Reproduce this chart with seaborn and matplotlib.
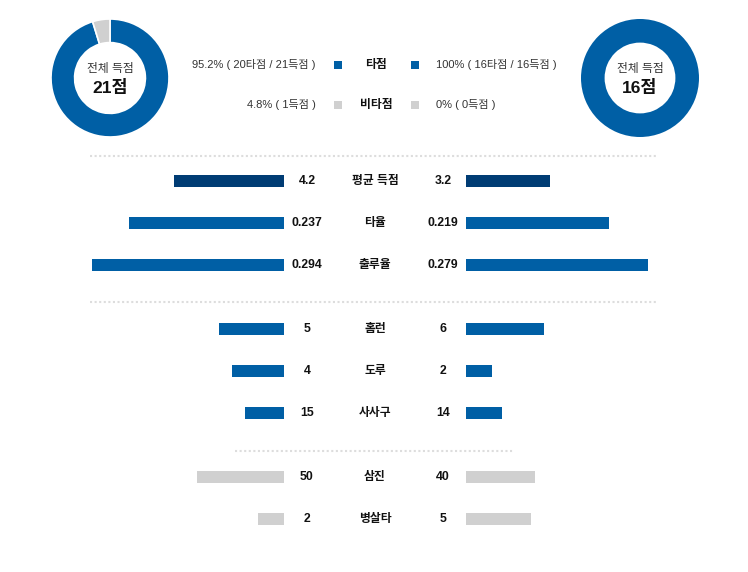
""" 팀 비교 차트: 득점 도넛 + 항목별 좌우 막대 """

import matplotlib
matplotlib.use("Agg")
import matplotlib.pyplot as plt
import numpy as np
import pandas as pd
import seaborn as sns

# 득점 구성 (왼쪽 팀, 오른쪽 팀)
total_runs = [21, 16]
rbi_runs = [20, 16]

# 항목별 기록
group1_labels = ["평균 득점", "타율", "출루율"]
group1_left = [4.2, 0.237, 0.294]
group1_right = [3.2, 0.219, 0.279]
group1_fmt = ["{:.1f}", "{:.3f}", "{:.3f}"]
group1_max = [7.66, 0.306, 0.306]

group2_labels = ["홈런", "도루", "사사구"]
group2_left = [5, 4, 15]
group2_right = [6, 2, 14]
group2_fmt = ["{:d}", "{:d}", "{:d}"]
group2_max = [15.4, 15.4, 77.2]

group3_labels = ["삼진", "병살타"]
group3_left = [50, 2]
group3_right = [40, 5]
group3_fmt = ["{:d}", "{:d}"]
group3_max = [115.3, 15.4]

BLUE = "#005fa5"
NAVY = "#003c74"
GRAY = "#d0d0d0"
TEXT = "#333333"

sns.set_theme(style="white")
plt.rcParams["font.family"] = ["Liberation Sans", "Noto Sans CJK KR"]

W, H = 748, 572
fig = plt.figure(figsize=(W / 100, H / 100), dpi=100)


def px_axes(x0, y0, x1, y1):
    ax = fig.add_axes([x0 / W, 1 - y1 / H, (x1 - x0) / W, (y1 - y0) / H])
    ax.set_axis_off()
    return ax


# 배경용 axes (픽셀 좌표)
bg = px_axes(0, 0, W, H)
bg.set_xlim(0, W)
bg.set_ylim(H, 0)


def pct(a, b):
    return "{:g}%".format(round(a / b * 100, 1))


# 도넛
for i, cx in enumerate([110, 640]):
    ax = px_axes(cx - 59, 19, cx + 59, 137)
    vals = [rbi_runs[i], total_runs[i] - rbi_runs[i]]
    cols = [BLUE, GRAY]
    keep = [k for k, v in enumerate(vals) if v > 0]
    lw = 1.2 if len(keep) > 1 else 0
    ax.pie([vals[k] for k in keep], colors=[cols[k] for k in keep], startangle=90,
           counterclock=False, wedgeprops=dict(width=0.4, edgecolor="white", linewidth=lw))
    ax.set_xlim(-1, 1)
    ax.set_ylim(-1, 1)
    ax.text(0, 0.15, "전체 득점", ha="center", va="center", fontsize=8.5, color=TEXT)
    ax.text(0, -0.17, f"{total_runs[i]}점", ha="center", va="center", fontsize=12.5,
            fontweight="bold", color="#111111")

# 범례
legend_rows = [
    ("타점", BLUE,
     f"{pct(rbi_runs[0], total_runs[0])} ( {rbi_runs[0]}타점 / {total_runs[0]}득점 )",
     f"{pct(rbi_runs[1], total_runs[1])} ( {rbi_runs[1]}타점 / {total_runs[1]}득점 )"),
    ("비타점", GRAY,
     f"{pct(total_runs[0] - rbi_runs[0], total_runs[0])} ( {total_runs[0] - rbi_runs[0]}득점 )",
     f"{pct(total_runs[1] - rbi_runs[1], total_runs[1])} ( {total_runs[1] - rbi_runs[1]}득점 )"),
]
for j, (name, c, lt, rt) in enumerate(legend_rows):
    y = 65 + 40 * j
    bg.scatter([338, 415], [y, y], marker="s", s=34, color=c, linewidths=0)
    bg.text(376, y, name, ha="center", va="center", fontsize=8.5, fontweight="bold", color="#111111")
    bg.text(316, y, lt, ha="right", va="center", fontsize=8, color=TEXT)
    bg.text(436, y, rt, ha="left", va="center", fontsize=8, color=TEXT)

# 구분선
for y, x0, x1 in [(156, 90, 658), (302, 90, 658), (451, 235, 513)]:
    bg.plot([x0, x1], [y, y], color="#dddddd", lw=1.5, ls=(0, (1, 1.2)))


def draw_group(top, labels, left, right, fmt, vmax, colors):
    n = len(labels)
    bottom = top + 42 * n
    df = pd.DataFrame({"label": labels,
                       "left": np.array(left) / np.array(vmax),
                       "right": np.array(right) / np.array(vmax)})
    for side, x0, x1, xlim in [("left", 84, 284, (1, 0)), ("right", 466, 666, (0, 1))]:
        ax = px_axes(x0, top, x1, bottom)
        sns.barplot(data=df, x=side, y="label", hue="label", palette=colors, orient="h",
                    width=0.28, saturation=1, linewidth=0, legend=False, ax=ax)
        ax.set_xlim(*xlim)
        ax.set_ylim(n - 0.5, -0.5)
        ax.set_axis_off()
    mid = px_axes(284, top, 466, bottom)
    mid.set_xlim(284, 466)
    mid.set_ylim(n - 0.5, -0.5)
    for k in range(n):
        mid.text(307, k, fmt[k].format(left[k]), ha="center", va="center",
                 fontsize=8.8, fontweight="bold", color="#111111")
        mid.text(375, k, labels[k], ha="center", va="center",
                 fontsize=8.5, fontweight="bold", color="#111111")
        mid.text(443, k, fmt[k].format(right[k]), ha="center", va="center",
                 fontsize=8.8, fontweight="bold", color="#111111")


draw_group(160, group1_labels, group1_left, group1_right, group1_fmt, group1_max,
           [NAVY, BLUE, BLUE])
draw_group(308, group2_labels, group2_left, group2_right, group2_fmt, group2_max,
           [BLUE, BLUE, BLUE])
draw_group(456, group3_labels, group3_left, group3_right, group3_fmt, group3_max,
           [GRAY, GRAY])

fig.savefig("out.png", dpi=100)
